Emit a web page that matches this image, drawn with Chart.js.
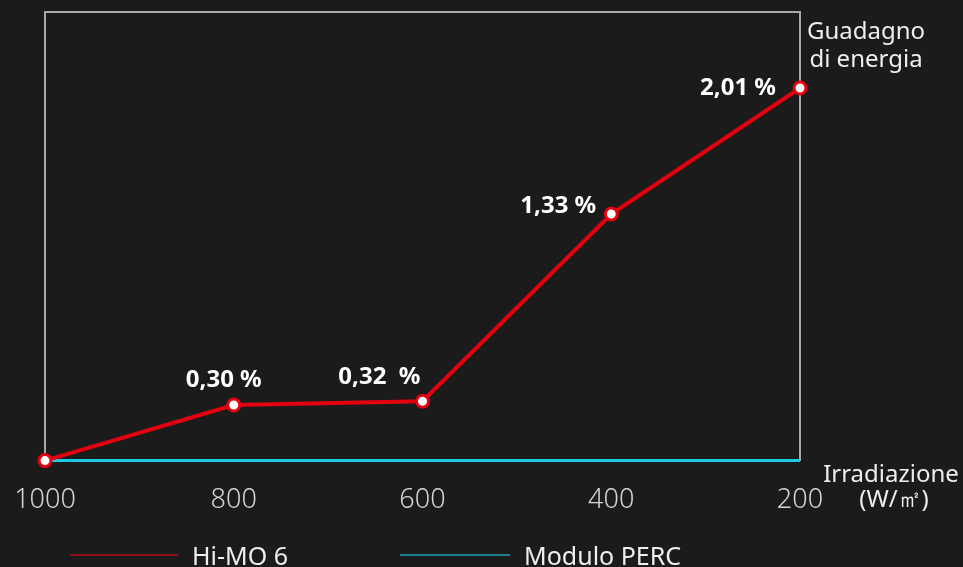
<!DOCTYPE html>
<html>
<head>
<meta charset="utf-8">
<script src="https://cdn.jsdelivr.net/npm/chart.js@4.4.1/dist/chart.umd.min.js"></script>
<style>
  html, body { margin: 0; padding: 0; background: #1b1b1b; overflow: hidden; }
  #wrap { position: relative; width: 963px; height: 567px; }
</style>
</head>
<body>
<div id="wrap"><canvas id="gainChart"></canvas></div>
<script>
// irradiance levels (W/m2) and energy gain (%)
var irradiance = ['1000', '800', '600', '400', '200'];
var himoGain = [0, 0.30, 0.32, 1.33, 2.01];
var percGain = [0, 0, 0, 0, 0];
var gainLabels = ['', '0,30 %', '0,32  %', '1,33 %', '2,01 %'];
var seriesNames = ['Hi-MO 6', 'Modulo PERC'];

var FONT = "'Noto Sans', 'Open Sans', sans-serif";
var frameColor = '#a9a9a9';

// where each value label sits relative to its point
var labelOffsets = [[0, 0], [28, -25], [-2, -24], [-15, -8], [-24, 0]];

var textPlugin = {
  id: 'textPlugin',
  afterDatasetsDraw: function(chart) {
    var ctx = chart.ctx;
    var meta = chart.getDatasetMeta(0);
    ctx.save();
    ctx.fillStyle = '#ffffff';
    ctx.font = 'bold 24px ' + FONT;
    ctx.textAlign = 'right';
    ctx.textBaseline = 'middle';
    meta.data.forEach(function(pt, i) {
      if (!gainLabels[i]) return;
      ctx.fillText(gainLabels[i], pt.x + labelOffsets[i][0], pt.y + labelOffsets[i][1]);
    });
    ctx.restore();
  },
  afterDraw: function(chart) {
    var ctx = chart.ctx;
    var area = chart.chartArea;
    ctx.save();
    ctx.fillStyle = '#eeeeee';
    ctx.font = '24px ' + FONT;
    ctx.textAlign = 'center';
    ctx.textBaseline = 'middle';
    // axis captions
    ctx.fillText('Guadagno', area.right + 66, 32);
    ctx.fillText('di energia', area.right + 66, 60);
    ctx.fillText('Irradiazione', area.right + 91, 475);
    ctx.fillText('(W/㎡)', area.right + 94, 500);

    // legend
    var legendY = 555;
    var items = [
      { x: 70, w: 108, color: '#8e1019' },
      { x: 400, w: 110, color: '#1b7f8e' }
    ];
    ctx.textAlign = 'left';
    ctx.font = '25px ' + FONT;
    chart.data.datasets.forEach(function(ds, i) {
      var it = items[i];
      ctx.strokeStyle = it.color;
      ctx.lineWidth = 2;
      ctx.beginPath();
      ctx.moveTo(it.x, legendY);
      ctx.lineTo(it.x + it.w, legendY);
      ctx.stroke();
      ctx.fillStyle = '#eeeeee';
      ctx.fillText(ds.label, it.x + it.w + 14, legendY + 3);
    });
    ctx.restore();
  }
};

function noWidth(scale) { scale.width = 0; }
function noSidePadding(scale) { scale.paddingLeft = 0; scale.paddingRight = 0; }

var ctx = document.getElementById('gainChart');

var gainChart = new Chart(ctx, {
  type: 'line',
  data: {
    labels: irradiance,
    datasets: [
      {
        label: seriesNames[0],
        data: himoGain,
        borderColor: '#e3000f',
        borderWidth: 4,
        pointRadius: 6,
        pointBorderWidth: 3,
        pointBackgroundColor: '#ffffff',
        pointBorderColor: '#e3000f',
        clip: false,
        tension: 0
      },
      {
        label: seriesNames[1],
        data: percGain,
        borderColor: '#1cc8e3',
        borderWidth: 3,
        pointRadius: 0,
        clip: false
      }
    ]
  },
  options: {
    responsive: true,
    maintainAspectRatio: false,
    animation: false,
    layout: { padding: { left: 45, right: 163, top: 12, bottom: 26 } },
    plugins: {
      legend: { display: false },
      tooltip: { enabled: false }
    },
    scales: {
      x: {
        afterFit: noSidePadding,
        grid: { display: false, drawTicks: false },
        border: { display: false },
        ticks: {
          color: '#d4d4d4',
          font: { family: FONT, size: 27, weight: '300' },
          padding: 24,
          maxRotation: 0
        }
      },
      xTop: {
        position: 'top',
        afterFit: noSidePadding,
        grid: { display: false, drawTicks: false },
        border: { display: true, color: frameColor, width: 2 },
        ticks: { display: false }
      },
      y: {
        min: 0,
        max: 2.42,
        afterFit: noWidth,
        grid: { display: false, drawTicks: false },
        border: { display: true, color: frameColor, width: 2 },
        ticks: { display: false }
      },
      yRight: {
        position: 'right',
        min: 0,
        max: 2.42,
        afterFit: noWidth,
        grid: { display: false, drawTicks: false },
        border: { display: true, color: frameColor, width: 2 },
        ticks: { display: false }
      }
    }
  },
  plugins: [textPlugin]
});
</script>
</body>
</html>
